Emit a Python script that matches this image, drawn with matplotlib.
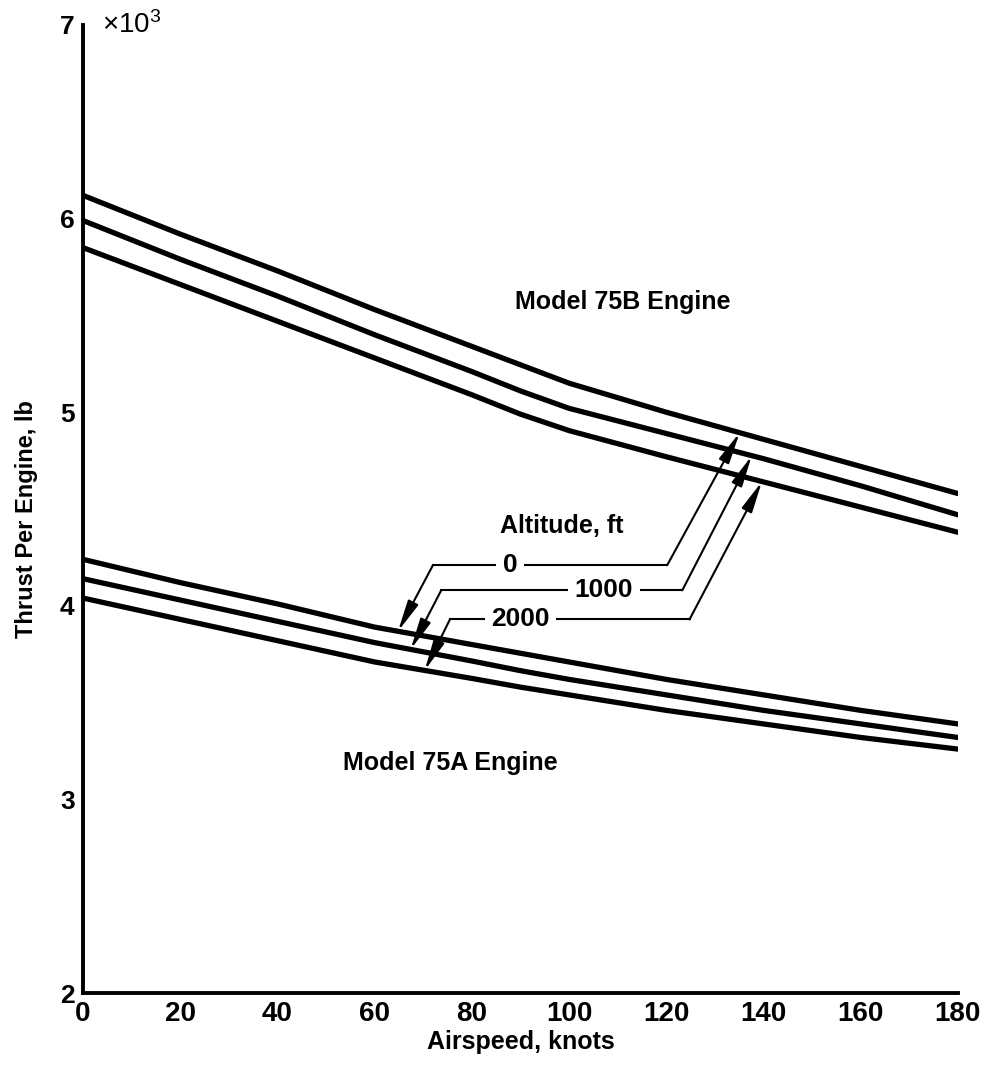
import numpy as np
import matplotlib.pyplot as plt

plt.rcParams['font.family'] = ['Liberation Sans', 'DejaVu Sans']
plt.rcParams['font.weight'] = 'bold'
plt.rcParams['mathtext.default'] = 'regular'

# Airspeed (knots) and thrust per engine (x1000 lb) at 0 / 1000 / 2000 ft
airspeed = np.array([0, 20, 40, 60, 80, 90, 100, 120, 140, 160, 180])

b_0ft = np.array([6.12, 5.92, 5.73, 5.53, 5.34, 5.245, 5.15, 5.00, 4.86, 4.72, 4.58])
b_1000ft = np.array([5.99, 5.79, 5.60, 5.40, 5.21, 5.11, 5.02, 4.89, 4.76, 4.62, 4.47])
b_2000ft = np.array([5.85, 5.66, 5.47, 5.28, 5.09, 4.99, 4.905, 4.77, 4.64, 4.51, 4.38])

a_0ft = np.array([4.24, 4.12, 4.01, 3.89, 3.80, 3.755, 3.71, 3.62, 3.54, 3.46, 3.39])
a_1000ft = np.array([4.14, 4.03, 3.92, 3.81, 3.715, 3.665, 3.62, 3.54, 3.46, 3.39, 3.32])
a_2000ft = np.array([4.04, 3.93, 3.82, 3.71, 3.625, 3.58, 3.54, 3.46, 3.39, 3.32, 3.26])

altitudes = ['0', '1000', '2000']
xticks = np.arange(0, 181, 20)
yticks = np.arange(2, 8, 1)

fig = plt.figure(figsize=(9.93, 10.68), dpi=100)
ax = fig.add_axes([0.0836, 0.0702, 0.8810, 0.9064])

for y in [b_0ft, b_1000ft, b_2000ft, a_0ft, a_1000ft, a_2000ft]:
    ax.plot(airspeed, y, color='black', lw=3.8, solid_capstyle='round',
            solid_joinstyle='round')

ax.set_xlim(0, 180)
ax.set_ylim(2, 7)
ax.set_xticks(xticks)
ax.set_yticks(yticks)
ax.tick_params(length=0, labelsize=19, pad=6)
ax.tick_params(axis='x', labelsize=20)
for s in ['top', 'right']:
    ax.spines[s].set_visible(False)
for s in ['left', 'bottom']:
    ax.spines[s].set_linewidth(2.8)

ax.set_xlabel('Airspeed, knots', fontsize=18, fontweight='bold', labelpad=2)
ax.set_ylabel('Thrust Per Engine, lb', fontsize=17, fontweight='bold')
ax.yaxis.set_label_coords(-0.052, 0.49)
ax.text(4, 7.0, '×10$^3$', fontsize=20, fontweight='normal', va='center', ha='left')

ax.text(111, 5.57, 'Model 75B Engine', fontsize=18, ha='center', va='center')
ax.text(75.5, 3.19, 'Model 75A Engine', fontsize=18, ha='center', va='center')
ax.text(98.5, 4.41, 'Altitude, ft', fontsize=18, ha='center', va='center')

# leader lines: lower arrow tip x, left bend, label x, right bend, upper arrow tip x
low_tip = [64.8, 67.4, 70.3]
bend_left = [72.0, 73.7, 75.5]
bend_right = [120.2, 123.3, 124.8]
up_tip = [135.1, 137.6, 139.7]
label_x = [87.9, 107.2, 90.0]
level_y = [4.21, 4.08, 3.93]

upper = [b_0ft, b_1000ft, b_2000ft]
lower = [a_0ft, a_1000ft, a_2000ft]
arrow = dict(arrowstyle='-|>,head_length=0.95,head_width=0.17', color='black',
             lw=1.5, mutation_scale=20, shrinkA=0, shrinkB=0)
for i, alt in enumerate(altitudes):
    yl = level_y[i]
    ax.plot([bend_left[i], bend_right[i]], [yl, yl], color='black', lw=1.5)
    ax.text(label_x[i], yl, alt, fontsize=19, ha='center', va='center',
            bbox=dict(boxstyle='square,pad=0.25', fc='white', ec='none'))
    ty = np.interp(low_tip[i], airspeed, lower[i])
    ax.annotate('', xy=(low_tip[i], ty), xytext=(bend_left[i], yl), arrowprops=arrow)
    ty = np.interp(up_tip[i], airspeed, upper[i])
    ax.annotate('', xy=(up_tip[i], ty), xytext=(bend_right[i], yl), arrowprops=arrow)

fig.savefig('out.png', dpi=100)
